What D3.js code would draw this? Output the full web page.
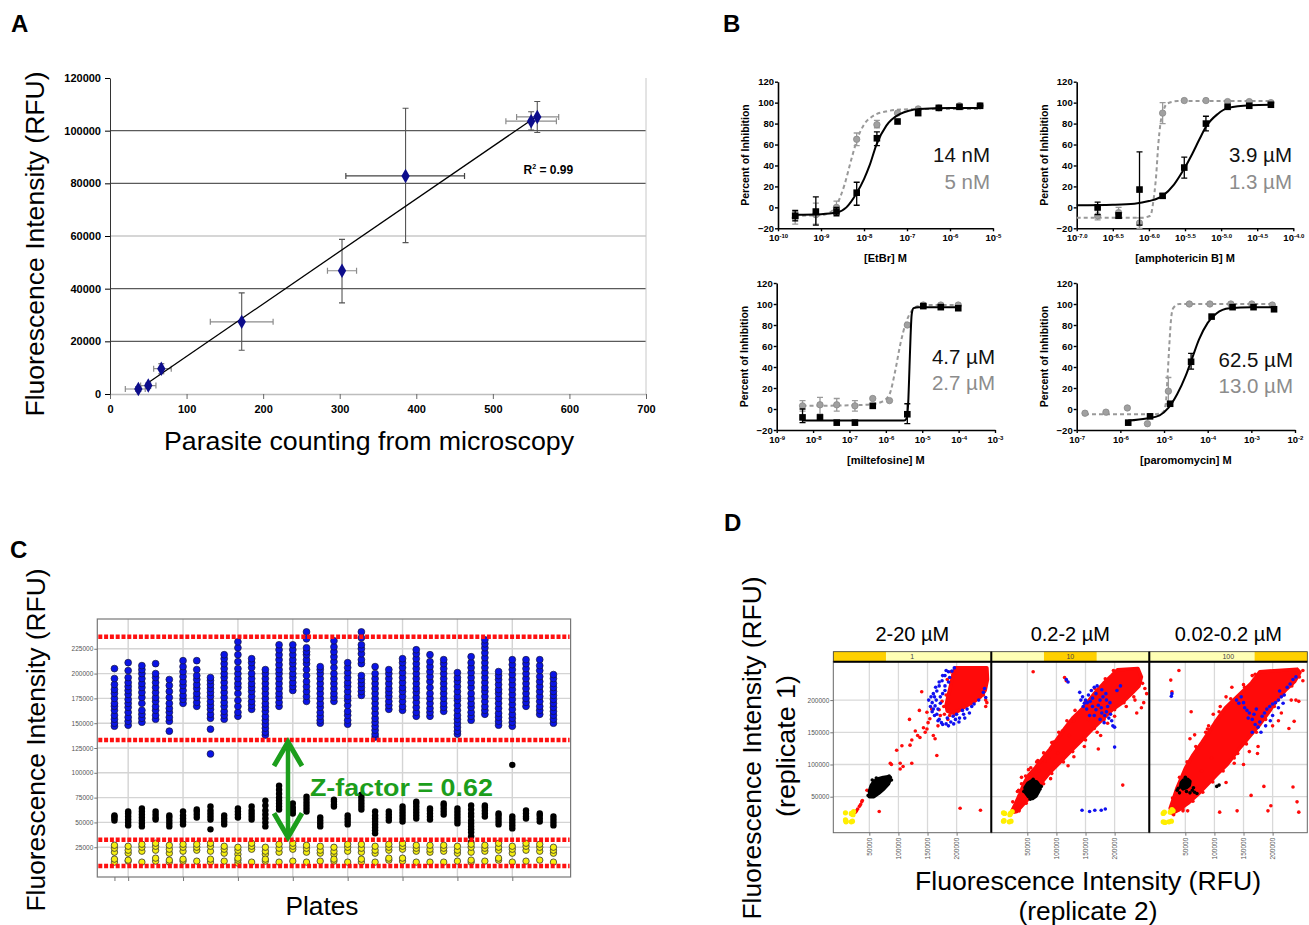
<!DOCTYPE html>
<html>
<head>
<meta charset="utf-8">
<script src="https://cdn.jsdelivr.net/npm/d3@7/dist/d3.min.js"></script>
<style>
  body { margin: 0; background: #fff; }
  svg { display: block; font-family: "Liberation Sans", Arial, sans-serif; }
</style>
</head>
<body>
<svg id="fig" width="1309" height="925"></svg>
<script>
'use strict';

/* global d3 */

/*
 * panel A - fluorescence vs parasite counting
 */
var parasiteCount = [37, 50, 67, 172, 303, 386, 550, 558];
var parasiteCountLo = [20, 40, 57, 131, 284, 308, 517, 531];
var parasiteCountHi = [46, 60, 80, 213, 322, 463, 583, 586];
var rfuMean = [1900, 3200, 9600, 27400, 46800, 82800, 103600, 105200];
var rfuLo = [1000, 2200, 7700, 16600, 34600, 57500, 100200, 99300];
var rfuHi = [2800, 4200, 11500, 38400, 58700, 108500, 107200, 111100];
var fitLineA = [[46, 3500], [557, 105400]];
var rSquaredA = '0.99';
var xTicksA = [0, 100, 200, 300, 400, 500, 600, 700];
var yTicksA = [0, 20000, 40000, 60000, 80000, 100000, 120000];

/*
 * panel B - dose response (x = log10 molar dose, y = % inhibition)
 */
var drugAxisTitles = ['[EtBr] M', '[amphotericin B] M', '[miltefosine] M', '[paromomycin] M'];
var ec50Black = ['14 nM', '3.9 µM', '4.7 µM', '62.5 µM'];
var ec50Gray = ['5 nM', '1.3 µM', '2.7 µM', '13.0 µM'];
var logDoseDomains = [[-10, -5], [-7, -4], [-9, -3], [-7, -2]];
var logDoseTicks = [
  [-10, -9, -8, -7, -6, -5],
  [-7, -6.5, -6, -5.5, -5, -4.5, -4],
  [-9, -8, -7, -6, -5, -4, -3],
  [-7, -6, -5, -4, -3, -2]
];
var logDoseTickLabels = [
  ['-10', '-9', '-8', '-7', '-6', '-5'],
  ['-7.0', '-6.5', '-6.0', '-5.5', '-5.0', '-4.5', '-4.0'],
  ['-9', '-8', '-7', '-6', '-5', '-4', '-3'],
  ['-7', '-6', '-5', '-4', '-3', '-2']
];
var inhibitionTicks = [-20, 0, 20, 40, 60, 80, 100, 120];

// [log dose, % inhibition, err low, err high]
var blackPoints = [
  [[-9.6, -8, -13, -3], [-9.12, -4, -17, 10], [-8.64, -4, -8, 0], [-8.17, 14, 2, 24], [-7.7, 66, 59, 72],
   [-7.22, 82], [-6.74, 90], [-6.26, 95], [-5.78, 96], [-5.3, 97]],
  [[-6.71, 0, -7, 5], [-6.42, -8, -10, -5], [-6.13, 17, -17, 53], [-5.81, 11, 9, 13], [-5.51, 38, 28, 48],
   [-5.21, 80, 73, 87], [-4.91, 96], [-4.61, 97], [-4.31, 98]],
  [[-8.29, -8, -13, 0], [-7.81, -8], [-7.35, -13], [-6.85, -13], [-6.36, 3], [-5.41, -5, -14, 5],
   [-4.97, 98], [-4.49, 97], [-4.01, 96]],
  [[-5.82, -13], [-5.32, -7], [-4.86, 5], [-4.38, 45, 38, 53], [-3.91, 88], [-3.43, 97], [-2.95, 97], [-2.48, 95]]
];
var grayPoints = [
  [[-9.6, -10, -16, -4], [-9.12, -7, -16, 4], [-8.64, 0, -6, 6], [-8.17, 65, 59, 71], [-7.7, 79, 76, 83],
   [-7.22, 90], [-6.74, 94], [-6.26, 95], [-5.78, 97], [-5.3, 97]],
  [[-6.71, -8, -12, -3], [-6.42, -5, -10, 0], [-6.13, -15, -20, -10], [-5.81, 90, 80, 100], [-5.51, 102],
   [-5.21, 102], [-4.91, 101], [-4.61, 101], [-4.31, 100]],
  [[-8.29, 3, -2, 8], [-7.81, 4, -5, 11], [-7.35, 4, -2, 10], [-6.85, 3, -2, 8], [-6.36, 10], [-5.9, 8],
   [-5.41, 80], [-4.97, 99], [-4.49, 99], [-4.01, 99]],
  [[-6.81, -4], [-6.33, -3], [-5.84, 1], [-5.38, -14], [-4.9, 17, 5, 30], [-4.42, 100], [-3.95, 100],
   [-3.47, 100], [-2.99, 100], [-2.52, 99]]
];
// fitted curves
var blackFits = [
  [[-9.6, -7], [-9.0, -6.5], [-8.64, -5], [-8.41, 0], [-8.18, 13], [-8.0, 27], [-7.87, 40], [-7.71, 60],
   [-7.48, 78], [-7.17, 89], [-6.71, 94], [-6.0, 95], [-5.3, 95]],
  [[-7.0, 2], [-6.5, 2.5], [-6.2, 3.5], [-6.0, 6], [-5.81, 11], [-5.65, 22], [-5.51, 37], [-5.4, 51],
   [-5.3, 65], [-5.21, 77], [-5.05, 89], [-4.9, 95], [-4.6, 97.5], [-4.3, 98]],
  [[-8.29, -11], [-7.0, -11], [-5.5, -11], [-5.43, -9], [-5.38, 10], [-5.35, 40], [-5.32, 70], [-5.29, 90],
   [-5.24, 96], [-5.1, 97], [-4.01, 97]],
  [[-5.82, -11], [-5.4, -9], [-5.1, -6], [-4.9, 1], [-4.7, 14], [-4.5, 32], [-4.35, 49], [-4.2, 66],
   [-4.0, 82], [-3.8, 91], [-3.5, 96], [-3.0, 97], [-2.48, 97]]
];
var grayFits = [
  [[-9.6, -8], [-9.0, -7.5], [-8.8, -5], [-8.64, 2], [-8.45, 22], [-8.3, 45], [-8.15, 66], [-8.0, 79],
   [-7.8, 87], [-7.5, 91.5], [-7.1, 93.5], [-6.5, 94], [-5.3, 94]],
  [[-7.0, -10], [-6.1, -10], [-5.98, -8], [-5.94, 5], [-5.9, 30], [-5.87, 60], [-5.84, 80], [-5.8, 92],
   [-5.75, 99], [-5.6, 101.5], [-4.3, 101.5]],
  [[-8.29, 3], [-7.0, 3.5], [-6.4, 4.5], [-6.1, 7], [-5.9, 14], [-5.75, 35], [-5.6, 62], [-5.45, 82],
   [-5.3, 93], [-5.1, 98], [-4.8, 99], [-4.01, 99]],
  [[-6.81, -5], [-5.2, -5], [-5.02, -3], [-4.96, 5], [-4.92, 30], [-4.88, 60], [-4.84, 85], [-4.79, 96],
   [-4.65, 100], [-2.52, 100]]
];

/*
 * panel C - controls per plate (values in thousands of RFU)
 */
var plateBlue = [
  [147, 150, 154, 158, 163, 167, 170, 175, 180, 184, 189, 195, 205],
  [148, 152, 156, 161, 166, 170, 174, 179, 183, 187, 191, 196, 203, 211],
  [151, 155, 159, 163, 170, 176, 181, 186, 190, 195, 200, 204, 208],
  [154, 158, 163, 167, 172, 176, 181, 186, 191, 196, 200, 210],
  [142, 152, 156, 161, 165, 170, 176, 182, 188, 194],
  [170, 174, 178, 183, 188, 192, 197, 202, 207, 213],
  [167, 171, 176, 180, 185, 189, 194, 198, 204, 213],
  [119, 144, 155, 159, 164, 168, 172, 177, 181, 185, 189, 193, 196],
  [154, 158, 162, 167, 171, 176, 181, 186, 191, 196, 200, 205, 210, 215, 219],
  [157, 161, 167, 173, 180, 186, 190, 195, 200, 205, 212, 219, 226, 232],
  [164, 168, 172, 177, 182, 186, 190, 195, 200, 206, 211, 215],
  [138, 141, 145, 149, 153, 157, 162, 166, 170, 175, 180, 185, 190, 195, 200, 204],
  [167, 171, 176, 180, 185, 190, 195, 200, 204, 209, 214, 219, 224, 229],
  [183, 187, 191, 196, 200, 205, 210, 214, 219, 224, 229],
  [172, 177, 182, 187, 192, 198, 204, 210, 214, 219, 222, 226, 235, 242],
  [150, 153, 157, 161, 166, 170, 175, 180, 185, 190, 195, 200, 204, 207],
  [172, 176, 180, 185, 190, 195, 200, 206, 212, 217, 222, 227, 233],
  [149, 153, 158, 162, 168, 173, 177, 182, 187, 191, 196, 201, 206, 211],
  [178, 182, 186, 190, 194, 198, 210, 214, 220, 225, 229, 236, 242],
  [136, 139, 143, 147, 151, 155, 160, 165, 170, 175, 180, 185, 190, 195, 200, 207],
  [164, 168, 172, 177, 181, 185, 190, 195, 200, 204],
  [163, 167, 172, 177, 182, 186, 191, 196, 201, 206, 211, 215],
  [157, 161, 166, 171, 176, 181, 185, 190, 195, 200, 205, 210, 215, 220, 224],
  [157, 161, 165, 170, 175, 180, 186, 192, 197, 202, 207, 212, 219],
  [162, 166, 170, 175, 180, 185, 190, 195, 200, 205, 210, 214],
  [139, 142, 146, 150, 154, 158, 163, 168, 173, 177, 182, 187, 192, 196, 201],
  [153, 157, 161, 166, 170, 175, 180, 186, 191, 196, 201, 206, 211, 217],
  [159, 163, 167, 172, 177, 182, 186, 191, 196, 201, 206, 211, 216, 221, 226, 230, 234],
  [148, 152, 156, 160, 165, 170, 175, 180, 184, 189, 194, 198, 202],
  [147, 151, 155, 159, 164, 169, 174, 179, 184, 189, 194, 199, 204, 209, 214],
  [167, 171, 175, 180, 185, 190, 195, 200, 205, 210, 214],
  [159, 163, 167, 172, 177, 182, 187, 192, 197, 203, 208, 214],
  [150, 154, 158, 162, 166, 170, 174, 178, 182, 186, 190, 195, 199]
];
var plateBlack = [
  [52, 54, 56, 57], [47, 50, 53, 56, 59, 61], [46, 49, 52, 55, 58, 61, 64], [53, 55, 58, 61],
  [46, 49, 52, 55, 57], [48, 51, 54, 57, 61], [55, 58, 61, 63], [43, 53, 56, 59, 62, 66],
  [48, 51, 54, 57], [55, 58, 61, 64], [53, 56, 59, 62, 66], [46, 50, 54, 58, 62, 67, 72],
  [63, 66, 69, 72, 75, 79, 83, 87], [59, 62, 65, 69], [61, 64, 67, 70, 73, 76], [46, 49, 52, 55],
  [66, 68, 71, 73], [48, 51, 54, 57], [63, 66, 69, 72, 75, 78], [39, 42, 45, 48, 51, 54, 57, 61],
  [52, 55, 58, 61], [51, 54, 57, 60, 63, 66], [54, 57, 60, 63, 66, 69, 71], [53, 56, 59, 62, 64],
  [58, 61, 64, 67, 69], [49, 52, 55, 58, 61, 64], [30, 36, 40, 43, 46, 49, 52, 56, 59, 63, 67],
  [56, 59, 62, 65, 67], [48, 51, 54, 57, 59], [44, 47, 50, 53, 56, 108], [54, 56, 59, 62],
  [51, 54, 57, 59], [47, 50, 53, 56]
];
var plateYellow = [
  [20, 24, 27, 10, 13], [19, 22, 26, 11, 12], [21, 25, 28, 10], [22, 26, 29, 11, 14], [19, 23, 27, 10, 12],
  [21, 25, 28, 11, 13], [22, 25, 28, 11], [21, 26, 29, 10, 13], [19, 23, 26, 11], [18, 22, 25, 9, 12, 14],
  [23, 26, 29, 10], [18, 21, 25, 11, 13], [20, 24, 28, 10], [23, 26, 29, 11], [20, 24, 27, 10],
  [19, 22, 26, 11], [18, 21, 25, 11, 13], [21, 25, 28, 10], [20, 24, 28, 10, 13], [19, 22, 26, 10],
  [22, 25, 28, 12, 14], [23, 26, 29, 11, 14], [21, 24, 27, 10], [20, 23, 27, 10], [21, 24, 27, 10],
  [19, 22, 26, 11], [20, 25, 28, 10, 12], [21, 24, 27, 11], [22, 25, 29, 12, 14], [19, 23, 26, 10],
  [22, 26, 29, 11], [21, 25, 28, 12], [19, 22, 25, 10]
];
var cutoffLines = [237, 133, 32.5, 6];
var rfuTicksC = [25, 50, 75, 100, 125, 150, 175, 200, 225];
var plateTicks = [1, 2, 6, 10, 14, 18, 22, 26, 30];
var plateGrid = [2, 6, 10, 14, 18, 22, 26, 30];
var zFactorLabel = 'Z-factor = 0.62';
var zArrow = {plate: 13.65, top: 131, bottom: 35};
var zLabelAt = {plate: 15.25, rfu: 77};

/*
 * panel D - replicate scatter (thousands of RFU)
 */
var facetTitles = ['2-20 µM', '0.2-2 µM', '0.02-0.2 µM'];
var stripLabels = ['1', '10', '100'];
var stripHighlight = [0, 1, 2];
var rfuTicksD = [50, 100, 150, 200];
var redCores = [
  [[198, 250], [252, 250], [253, 232], [249, 215], [241, 205], [229, 197], [215, 190], [203, 183],
   [192, 180], [184, 183], [182, 192], [185, 205], [189, 220], [193, 236]],
  [[22, 25], [29, 38], [37, 54], [44, 70], [52, 83], [64, 95], [76, 109], [89, 124], [101, 139], [115, 157],
   [129, 173], [147, 189], [164, 209], [181, 226], [195, 238], [205, 247], [240, 249], [246, 236],
   [242, 222], [229, 210], [212, 195], [196, 185], [179, 170], [162, 155], [145, 139], [125, 121],
   [108, 105], [88, 87], [72, 69], [58, 53], [44, 39], [32, 27]],
  [[24, 32], [36, 64], [50, 94], [62, 113], [79, 135], [101, 165], [119, 188], [141, 207], [164, 227],
   [178, 244], [242, 248], [247, 243], [238, 229], [224, 217], [207, 200], [195, 183], [178, 162],
   [161, 144], [144, 126], [122, 100], [104, 84], [88, 69], [71, 53], [55, 40], [38, 29], [27, 24]]
];
var redDots = [
  [[28, 28], [30, 31], [33, 35], [35, 38], [37, 42], [38, 44], [26, 26], [46, 60], [67, 27], [86, 102],
   [88, 100], [103, 102], [108, 97], [103, 93], [97, 122], [106, 129], [123, 102], [120, 130], [123, 138],
   [119, 170], [129, 152], [133, 145], [137, 142], [143, 157], [146, 150], [149, 155], [151, 165],
   [154, 171], [140, 213], [166, 114], [160, 145], [163, 140], [149, 181], [157, 186], [136, 184],
   [206, 32], [241, 29], [243, 216], [246, 208], [250, 200], [185, 170], [172, 176], [170, 185],
   [175, 198], [182, 208], [190, 226], [194, 240], [250, 190], [252, 196], [168, 160], [178, 190],
   [179, 178], [188, 176], [197, 178], [186, 196], [190, 244], [184, 232]],
  [[60, 244], [114, 235], [117, 230], [214, 68], [255, 210], [252, 218], [250, 196], [246, 188],
   [238, 180], [78, 70], [80, 105], [95, 135], [110, 152], [58, 88], [130, 168], [102, 118], [68, 106],
   [40, 80], [130, 112], [148, 128], [170, 150], [176, 145], [90, 78], [120, 98], [172, 124], [35, 60],
   [52, 92], [84, 118], [140, 180], [158, 200], [200, 175], [220, 190], [235, 200], [150, 138], [188, 164],
   [25, 42], [33, 58], [40, 70], [47, 82], [56, 95], [66, 104], [78, 118], [92, 134], [104, 150], [118, 168],
   [132, 184], [150, 198], [166, 218], [184, 233], [198, 246], [36, 28], [48, 40], [62, 52], [76, 70],
   [92, 86], [112, 104], [128, 120], [148, 140], [165, 156], [182, 170], [200, 185], [216, 196],
   [233, 205], [248, 226], [70, 90], [98, 100], [86, 110], [122, 145], [155, 170]],
  [[39, 246], [25, 231], [27, 213], [60, 182], [66, 146], [134, 102], [140, 117], [174, 117], [185, 66],
   [235, 65], [242, 42], [245, 26], [197, 36], [192, 28], [163, 52], [139, 28], [109, 26], [46, 28],
   [54, 28], [228, 156], [237, 167], [245, 198], [240, 200], [70, 125], [85, 150], [98, 178], [120, 205],
   [150, 224], [165, 238], [120, 72], [150, 100], [175, 128], [200, 160], [215, 180], [232, 200],
   [252, 230], [252, 246], [130, 220], [110, 190], [90, 160], [78, 90], [28, 48], [40, 80], [53, 104],
   [68, 128], [88, 155], [108, 182], [128, 202], [152, 220], [170, 240], [30, 22], [46, 31], [63, 43],
   [80, 57], [97, 73], [115, 90], [134, 110], [155, 132], [172, 150], [188, 170], [203, 190], [218, 208],
   [233, 222], [246, 236], [58, 140], [95, 110], [160, 120], [210, 168]]
];
var blueDots = [
  [[158, 196], [162, 205], [160, 186], [166, 178], [170, 170], [174, 165], [182, 163], [190, 166],
   [198, 170], [205, 172], [166, 214], [170, 222], [175, 230], [180, 238], [186, 244], [163, 191],
   [172, 195], [168, 186], [184, 172], [194, 175], [212, 178], [226, 190], [246, 212], [250, 204],
   [156, 205], [165, 200], [176, 210], [180, 222], [188, 235], [192, 245], [200, 178], [218, 186],
   [155, 190], [158, 182], [162, 176], [168, 168], [176, 162], [186, 160], [195, 163], [204, 166],
   [214, 172], [222, 180], [160, 210], [164, 220], [170, 228], [176, 238], [182, 246], [196, 250],
   [152, 200], [172, 205], [180, 215], [186, 228], [230, 194], [238, 200], [248, 218], [210, 184]],
  [[140, 212], [145, 205], [150, 200], [148, 195], [155, 208], [160, 215], [165, 220], [170, 222],
   [158, 198], [162, 190], [168, 185], [172, 192], [175, 200], [180, 205], [185, 210], [178, 180],
   [183, 176], [190, 172], [195, 168], [197, 160], [200, 158], [188, 190], [192, 196], [152, 186],
   [146, 190], [157, 176], [165, 176], [175, 170], [182, 165], [200, 127], [117, 232], [120, 228],
   [144, 29], [157, 27], [166, 29], [177, 29], [184, 31], [186, 200], [204, 215], [210, 222],
   [142, 200], [153, 196], [162, 203], [168, 210], [177, 188], [186, 182], [193, 178], [178, 216]],
  [[138, 200], [142, 195], [146, 205], [150, 196], [152, 188], [156, 184], [160, 180], [158, 172],
   [165, 170], [168, 178], [172, 186], [170, 162], [175, 158], [178, 166], [182, 175], [186, 180],
   [190, 186], [195, 190], [200, 194], [205, 196], [210, 200], [215, 205], [220, 208], [212, 214],
   [225, 220], [230, 225], [235, 232], [240, 236], [196, 168], [188, 160], [200, 176], [210, 188],
   [218, 195], [26, 206], [27, 210], [165, 150], [180, 150]]
];
var blackCores = [
  [[52, 50], [58, 50], [66, 55], [75, 62], [83, 70], [86, 77], [82, 81], [74, 80], [66, 78], [58, 74],
   [53, 67], [50, 58]],
  [[47, 56], [52, 50], [59, 47], [65, 51], [70, 59], [71, 67], [66, 73], [58, 75], [51, 71], [46, 64]],
  [[42, 66], [46, 62], [52, 64], [57, 68], [58, 74], [54, 77], [47, 76], [43, 72]]
];
var blackDots = [
  [[48, 52], [50, 50], [86, 80], [84, 82], [55, 76], [62, 79], [88, 76]],
  [[44, 58], [72, 62], [60, 77], [55, 46], [74, 66]],
  [[36, 60], [38, 63], [62, 60], [66, 57], [70, 55], [108, 68], [104, 66], [52, 58], [58, 56], [44, 70],
   [50, 80], [40, 56], [64, 64]]
];
var yellowDots = [
  [[9, 25], [9, 14], [10, 11], [19, 11], [21, 12], [19, 24], [23, 27], [22, 22], [20, 23], [10, 12]],
  [[9, 25], [9, 12], [19, 11], [22, 12], [21, 24], [24, 27], [11, 24], [10, 13], [20, 22]],
  [[12, 24], [12, 11], [15, 10], [22, 11], [26, 12], [24, 26], [27, 30], [29, 28], [14, 26]]
];


/*
 * drawing
 */
var FONT = '"Liberation Sans", Arial, sans-serif';
var svg = d3.select('#fig');
svg.append('rect').attr('width', 1309).attr('height', 925).attr('fill', '#fff');

function styleAxis(a, size, bold) {
  a.attr('font-family', FONT).attr('font-size', size).attr('font-weight', bold ? 'bold' : 'normal');
  return a;
}

function title(g, x, y, s, size, opts) {
  opts = opts || {};
  var t = g.append('text')
    .attr('x', x).attr('y', y)
    .attr('text-anchor', opts.anchor || 'middle')
    .attr('font-size', size)
    .attr('font-weight', opts.bold ? 'bold' : 'normal')
    .attr('fill', opts.fill || '#000')
    .text(s);
  if (opts.rotate) t.attr('transform', 'rotate(-90,' + x + ',' + y + ')');
  if (opts.len) t.attr('textLength', opts.len).attr('lengthAdjust', 'spacingAndGlyphs');
  return t;
}

// panel letters
[['A', 11, 32], ['B', 723, 32], ['C', 10, 558], ['D', 724, 531]].forEach(function(l) {
  title(svg, l[1], l[2], l[0], 24, {anchor: 'start', bold: true});
});


/*
 * panel A
 */
(function() {
  var g = svg.append('g');
  var x = d3.scaleLinear().domain([0, 700]).range([110, 646]);
  var y = d3.scaleLinear().domain([0, 120000]).range([394, 78]);

  g.selectAll('line.grid')
    .data(yTicksA.filter(function(d) { return d > 0 && d < 120000; }))
    .enter().append('line')
    .attr('x1', x(0)).attr('x2', x(700))
    .attr('y1', y).attr('y2', y)
    .attr('stroke', function(d) { return d === 60000 ? '#c8c8c8' : '#5a5a5a'; })
    .attr('stroke-width', 1.3);
  g.append('line')
    .attr('x1', x(700)).attr('x2', x(700)).attr('y1', y(0)).attr('y2', y(120000))
    .attr('stroke', '#c8c8c8');

  var ax = g.append('g').attr('transform', 'translate(0,' + y(0) + ')')
    .call(d3.axisBottom(x).tickValues(xTicksA).tickSize(5).tickSizeOuter(0).tickPadding(6));
  styleAxis(ax, 11, true);
  ax.select('.domain').attr('stroke', '#bdbdbd').attr('stroke-width', 1.3);
  ax.selectAll('.tick line').attr('stroke', '#666');

  var ay = g.append('g').attr('transform', 'translate(' + x(0) + ',0)')
    .call(d3.axisLeft(y).tickValues(yTicksA).tickSize(5).tickSizeOuter(0).tickPadding(4)
      .tickFormat(d3.format('d')));
  styleAxis(ay, 11, true);
  ay.select('.domain').attr('stroke', '#333');

  var pts = parasiteCount.map(function(c, i) {
    return {x: c, y: rfuMean[i], xlo: parasiteCountLo[i], xhi: parasiteCountHi[i], ylo: rfuLo[i], yhi: rfuHi[i]};
  });

  // horizontal error bars
  g.selectAll('path.xerr').data(pts).enter().append('path')
    .attr('d', function(d) {
      var cy = y(d.y);
      return 'M' + x(d.xlo) + ',' + cy + 'H' + x(d.xhi) +
        'M' + x(d.xlo) + ',' + (cy - 3) + 'v6M' + x(d.xhi) + ',' + (cy - 3) + 'v6';
    })
    .attr('stroke', function(d, i) { return i === 5 ? '#444' : '#8c8c8c'; })
    .attr('stroke-width', 1.2).attr('fill', 'none');

  // vertical error bars
  g.selectAll('path.yerr').data(pts).enter().append('path')
    .attr('d', function(d) {
      var cx = x(d.x);
      return 'M' + cx + ',' + y(d.ylo) + 'V' + y(d.yhi) +
        'M' + (cx - 3) + ',' + y(d.ylo) + 'h6M' + (cx - 3) + ',' + y(d.yhi) + 'h6';
    })
    .attr('stroke', '#555').attr('stroke-width', 1.1).attr('fill', 'none');

  g.append('path').datum(fitLineA)
    .attr('d', d3.line().x(function(d) { return x(d[0]); }).y(function(d) { return y(d[1]); }))
    .attr('stroke', '#000').attr('stroke-width', 1.3).attr('fill', 'none');

  g.selectAll('path.pt').data(pts).enter().append('path')
    .attr('d', d3.symbol().type(d3.symbolDiamond).size(60))
    .attr('transform', function(d) { return 'translate(' + x(d.x) + ',' + y(d.y) + ')'; })
    .attr('fill', '#0d0d8c');

  var r2 = g.append('text').attr('x', x(540)).attr('y', y(83500))
    .attr('font-size', 12).attr('font-weight', 'bold');
  r2.append('tspan').text('R');
  r2.append('tspan').attr('dy', -5).attr('font-size', 7).text('2');
  r2.append('tspan').attr('dy', 5).text(' = ' + rSquaredA);

  title(g, 44, 244, 'Fluorescence Intensity (RFU)', 25, {rotate: true, len: 345});
  title(g, 369, 450, 'Parasite counting from microscopy', 25, {len: 410});
})();


/*
 * panel B
 */
var doseFrames = [
  {x0: 778, x1: 993, y0: 81.7, y1: 228.3, ec: [990, 162, 189]},
  {x0: 1076.7, x1: 1293.3, y0: 81.7, y1: 228.3, ec: [1292, 162, 189]},
  {x0: 776.7, x1: 995, y0: 283, y1: 430, ec: [995, 364, 390]},
  {x0: 1076.7, x1: 1295, y0: 283, y1: 430, ec: [1293, 367, 393]}
];

doseFrames.forEach(function(f, i) {
  var g = svg.append('g');
  var x = d3.scaleLinear().domain(logDoseDomains[i]).range([f.x0, f.x1]);
  var y = d3.scaleLinear().domain([-20, 120]).range([f.y1, f.y0]);

  var ay = g.append('g').attr('transform', 'translate(' + f.x0 + ',0)')
    .call(d3.axisLeft(y).tickValues(inhibitionTicks).tickSize(3).tickSizeOuter(0).tickPadding(1));
  var ax = g.append('g').attr('transform', 'translate(0,' + f.y1 + ')')
    .call(d3.axisBottom(x).tickValues(logDoseTicks[i]).tickSize(3).tickSizeOuter(0).tickPadding(3));
  [ay, ax].forEach(function(a) {
    styleAxis(a, 9.5, true);
    a.select('.domain').attr('stroke-width', 1.6);
    a.selectAll('.tick line').attr('stroke-width', 1.4);
  });
  ax.selectAll('.tick text').each(function(d, k) {
    var t = d3.select(this).text(null);
    t.append('tspan').text('10');
    t.append('tspan').attr('dy', '-0.45em').attr('font-size', 6).text(logDoseTickLabels[i][k]);
  });

  var line = d3.line()
    .x(function(d) { return x(d[0]); })
    .y(function(d) { return y(d[1]); })
    .curve(d3.curveMonotoneX);

  function errBars(pts, color) {
    g.selectAll(null).data(pts.filter(function(p) { return p.length > 2; }))
      .enter().append('path')
      .attr('d', function(p) {
        var cx = x(p[0]), a = y(p[2]), b = y(p[3]);
        return 'M' + cx + ',' + a + 'V' + b + 'M' + (cx - 3) + ',' + a + 'h6M' + (cx - 3) + ',' + b + 'h6';
      })
      .attr('stroke', color).attr('stroke-width', 1.3).attr('fill', 'none');
  }

  // gray strain
  g.append('path').datum(grayFits[i]).attr('d', line)
    .attr('fill', 'none').attr('stroke', '#999').attr('stroke-width', 2).attr('stroke-dasharray', '4,3');
  errBars(grayPoints[i], '#9a9a9a');
  g.selectAll(null).data(grayPoints[i]).enter().append('circle')
    .attr('cx', function(p) { return x(p[0]); })
    .attr('cy', function(p) { return y(p[1]); })
    .attr('r', 3.2).attr('fill', '#a0a0a0').attr('stroke', '#888').attr('stroke-width', 0.8);

  // black strain
  g.append('path').datum(blackFits[i]).attr('d', line)
    .attr('fill', 'none').attr('stroke', '#000').attr('stroke-width', 2);
  errBars(blackPoints[i], '#000');
  g.selectAll(null).data(blackPoints[i]).enter().append('rect')
    .attr('x', function(p) { return x(p[0]) - 3.3; })
    .attr('y', function(p) { return y(p[1]) - 3.3; })
    .attr('width', 6.6).attr('height', 6.6).attr('fill', '#000');

  title(g, f.ec[0], f.ec[1], ec50Black[i], 20.5, {anchor: 'end', fill: '#111'});
  title(g, f.ec[0], f.ec[2], ec50Gray[i], 20.5, {anchor: 'end', fill: '#8c8c8c'});

  title(g, f.x0 - 29, (f.y0 + f.y1) / 2, 'Percent of Inhibition', 10.5, {rotate: true, bold: true});
  title(g, (f.x0 + f.x1) / 2, f.y1 + 34, drugAxisTitles[i], 11, {bold: true});
});


/*
 * panel C
 */
(function() {
  var g = svg.append('g');
  var x = d3.scaleLinear().domain([-0.25, 34.25]).range([97.3, 570.6]);
  var y = d3.scaleLinear().domain([-5, 255]).range([877, 619]);

  g.append('rect').attr('x', x(-0.25)).attr('y', y(255))
    .attr('width', x(34.25) - x(-0.25)).attr('height', y(-5) - y(255))
    .attr('fill', '#fff');

  g.selectAll('line.hgrid').data(rfuTicksC).enter().append('line')
    .attr('x1', x(-0.25)).attr('x2', x(34.25)).attr('y1', y).attr('y2', y)
    .attr('stroke', '#d4d4d4').attr('stroke-width', 1.4);
  g.selectAll('line.vgrid').data(plateGrid).enter().append('line')
    .attr('x1', x).attr('x2', x).attr('y1', y(-5)).attr('y2', y(255))
    .attr('stroke', '#d4d4d4').attr('stroke-width', 1.4);

  var ay = g.append('g').attr('transform', 'translate(' + x(-0.25) + ',0)')
    .call(d3.axisLeft(y).tickValues(rfuTicksC).tickSize(3).tickSizeOuter(0).tickPadding(1)
      .tickFormat(function(d) { return d * 1000; }));
  styleAxis(ay, 6.5, false);
  ay.select('.domain').remove();
  ay.selectAll('text').attr('fill', '#555');
  ay.selectAll('line').attr('stroke', '#777');

  var ax = g.append('g').attr('transform', 'translate(0,' + y(-5) + ')')
    .call(d3.axisBottom(x).tickValues(plateTicks).tickSize(4).tickSizeOuter(0).tickFormat(''));
  ax.select('.domain').remove();
  ax.selectAll('line').attr('stroke', '#777');

  function flat(arr) {
    var out = [];
    arr.forEach(function(vals, p) {
      vals.forEach(function(v) { out.push({p: p + 1, v: v}); });
    });
    return out;
  }

  g.selectAll('circle.blue').data(flat(plateBlue)).enter().append('circle')
    .attr('cx', function(d) { return x(d.p); }).attr('cy', function(d) { return y(d.v); })
    .attr('r', 3.4).attr('fill', '#0a14e6').attr('stroke', '#15153a').attr('stroke-width', 0.7);
  g.selectAll('circle.black').data(flat(plateBlack)).enter().append('circle')
    .attr('cx', function(d) { return x(d.p); }).attr('cy', function(d) { return y(d.v); })
    .attr('r', 3.2).attr('fill', '#000');
  g.selectAll('circle.yellow').data(flat(plateYellow)).enter().append('circle')
    .attr('cx', function(d) { return x(d.p); }).attr('cy', function(d) { return y(d.v); })
    .attr('r', 3.2).attr('fill', '#f5ee10').attr('stroke', '#333').attr('stroke-width', 0.8);

  g.selectAll('line.cut').data(cutoffLines).enter().append('line')
    .attr('x1', x(-0.25) + 1).attr('x2', x(34.25) - 1).attr('y1', y).attr('y2', y)
    .attr('stroke', '#ff1010').attr('stroke-width', 4.5).attr('stroke-dasharray', '4,1.8');

  g.append('rect').attr('x', x(-0.25)).attr('y', y(255))
    .attr('width', x(34.25) - x(-0.25)).attr('height', y(-5) - y(255))
    .attr('fill', 'none').attr('stroke', '#777').attr('stroke-width', 1.2);

  // Z-factor arrow
  var ax0 = x(zArrow.plate), yt = y(zArrow.top), yb = y(zArrow.bottom);
  var green = '#1c9e1c';
  g.append('line').attr('x1', ax0).attr('x2', ax0).attr('y1', yt + 2).attr('y2', yb - 2)
    .attr('stroke', green).attr('stroke-width', 4.5);
  g.append('path')
    .attr('d', 'M' + (ax0 - 14) + ',' + (yt + 24) + 'L' + ax0 + ',' + yt + 'L' + (ax0 + 14) + ',' + (yt + 24) +
      'M' + (ax0 - 14) + ',' + (yb - 24) + 'L' + ax0 + ',' + yb + 'L' + (ax0 + 14) + ',' + (yb - 24))
    .attr('fill', 'none').attr('stroke', green).attr('stroke-width', 5).attr('stroke-linejoin', 'miter');
  title(g, x(zLabelAt.plate), y(zLabelAt.rfu), zFactorLabel, 23, {anchor: 'start', bold: true, fill: green, len: 183});

  title(g, 45, 740, 'Fluorescence Intensity (RFU)', 25, {rotate: true, len: 343});
  title(g, 322, 915, 'Plates', 25, {len: 73});
})();


/*
 * panel D
 */
(function() {
  var facetLeft = [833.3, 991.3, 1149.3];
  var W = 158, top = 661.7, bottom = 832.7, stripTop = 651.7;
  var x = d3.scaleLinear().domain([-11.9, 259.6]).range([0, W]);
  var y = d3.scaleLinear().domain([-5.9, 259.6]).range([bottom, top]);
  var poly = d3.line().x(function(d) { return x(d[0]); }).y(function(d) { return y(d[1]); })
    .curve(d3.curveLinearClosed);
  var defs = svg.append('defs');
  defs.append('clipPath').attr('id', 'facetClip')
    .append('rect').attr('x', 0).attr('y', top).attr('width', W).attr('height', bottom - top);

  facetLeft.forEach(function(left, f) {
    var g = svg.append('g').attr('transform', 'translate(' + left + ',0)');

    g.append('rect').attr('x', 0).attr('y', top).attr('width', W).attr('height', bottom - top)
      .attr('fill', '#fff');
    g.selectAll('line.vg').data(rfuTicksD).enter().append('line')
      .attr('x1', x).attr('x2', x).attr('y1', top).attr('y2', bottom)
      .attr('stroke', '#d9d9d9').attr('stroke-width', 1.3);
    g.selectAll('line.hg').data(rfuTicksD).enter().append('line')
      .attr('x1', 0).attr('x2', W).attr('y1', y).attr('y2', y)
      .attr('stroke', '#d9d9d9').attr('stroke-width', 1.3);

    var p = g.append('g').attr('clip-path', 'url(#facetClip)');
    p.append('path').datum(redCores[f]).attr('d', poly)
      .attr('fill', '#ff0a0a').attr('stroke', '#ff0a0a').attr('stroke-width', 3.6)
      .attr('stroke-linejoin', 'round');
    function dots(data, color, r) {
      p.selectAll(null).data(data).enter().append('circle')
        .attr('cx', function(d) { return x(d[0]); }).attr('cy', function(d) { return y(d[1]); })
        .attr('r', r).attr('fill', color);
    }
    dots(redDots[f], '#ff0a0a', 1.8);
    dots(blueDots[f], '#1010f0', 1.8);
    p.append('path').datum(blackCores[f]).attr('d', poly)
      .attr('fill', '#000').attr('stroke', '#000').attr('stroke-width', 3.4).attr('stroke-linejoin', 'round');
    dots(blackDots[f], '#000', 1.8);
    dots(yellowDots[f], '#ffee00', 2.6);

    // strip
    g.append('rect').attr('x', 0).attr('y', stripTop).attr('width', W).attr('height', top - stripTop)
      .attr('fill', '#ffffb4');
    g.append('rect').attr('x', stripHighlight[f] * W / 3).attr('y', stripTop)
      .attr('width', W / 3).attr('height', top - stripTop).attr('fill', '#ffd000');
    g.append('rect').attr('x', 0).attr('y', stripTop).attr('width', W).attr('height', top - stripTop)
      .attr('fill', 'none').attr('stroke', '#333').attr('stroke-width', 0.8);
    title(g, W / 2, top - 2.5, stripLabels[f], 7, {fill: '#444'});

    g.append('rect').attr('x', 0).attr('y', top).attr('width', W).attr('height', bottom - top)
      .attr('fill', 'none').attr('stroke', '#666').attr('stroke-width', 1);
    g.append('line').attr('x1', 0).attr('x2', W).attr('y1', top).attr('y2', top)
      .attr('stroke', '#000').attr('stroke-width', 2);

    var ax = g.append('g').attr('transform', 'translate(0,' + bottom + ')')
      .call(d3.axisBottom(x).tickValues(rfuTicksD).tickSize(3).tickSizeOuter(0)
        .tickFormat(function(d) { return d * 1000; }));
    styleAxis(ax, 6.5, false);
    ax.select('.domain').remove();
    ax.selectAll('line').attr('stroke', '#777');
    ax.selectAll('text').attr('fill', '#555')
      .attr('text-anchor', 'end').attr('dy', '0.32em').attr('y', 0)
      .attr('transform', 'translate(0,5) rotate(-90)');

    title(g, W / 2, 641, facetTitles[f], 20);
  });

  // separators between facets
  [991.3, 1149.3].forEach(function(sx) {
    svg.append('line').attr('x1', sx).attr('x2', sx).attr('y1', stripTop).attr('y2', bottom)
      .attr('stroke', '#000').attr('stroke-width', 2);
  });

  var ay = svg.append('g').attr('transform', 'translate(' + facetLeft[0] + ',0)')
    .call(d3.axisLeft(y).tickValues(rfuTicksD).tickSize(3).tickSizeOuter(0).tickPadding(1)
      .tickFormat(function(d) { return d * 1000; }));
  styleAxis(ay, 6.5, false);
  ay.select('.domain').remove();
  ay.selectAll('text').attr('fill', '#555');
  ay.selectAll('line').attr('stroke', '#777');

  title(svg, 761, 748, 'Fluorescence Intensity (RFU)', 25, {rotate: true, len: 343});
  title(svg, 795, 746, '(replicate 1)', 25, {rotate: true, len: 142});
  title(svg, 1088, 890, 'Fluorescence Intensity (RFU)', 25, {len: 346});
  title(svg, 1088, 920, '(replicate 2)', 25, {len: 139});
})();
</script>
</body>
</html>
